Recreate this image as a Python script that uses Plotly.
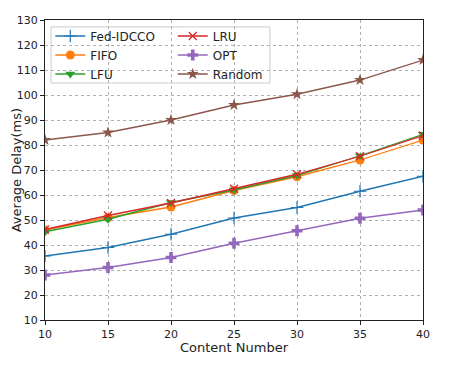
import plotly.graph_objects as go

content = [10, 15, 20, 25, 30, 35, 40]
fed_idcco = [35.6, 39.0, 44.3, 50.8, 55.0, 61.5, 67.5]
fifo = [46.0, 51.0, 55.2, 61.8, 67.3, 74.0, 82.0]
lfu = [45.3, 50.3, 57.0, 62.0, 67.8, 75.7, 84.3]
lru = [46.2, 51.8, 56.8, 62.5, 68.3, 75.5, 83.8]
opt = [28.0, 31.0, 35.0, 40.7, 45.7, 50.7, 54.0]
rand = [82.0, 85.0, 90.0, 96.0, 100.3, 106.0, 114.0]

x_title = "Content Number"
y_title = "Average Delay(ms)"

series = [
    ("Fed-IDCCO", fed_idcco, "#1f77b4", "cross-thin", 9, "legend"),
    ("FIFO", fifo, "#ff7f0e", "circle", 9, "legend"),
    ("LFU", lfu, "#2ca02c", "triangle-down", 9, "legend"),
    ("LRU", lru, "#d62728", "x-thin", 8, "legend2"),
    ("OPT", opt, "#9467bd", "cross", 9, "legend2"),
    ("Random", rand, "#8c564b", "star", 9, "legend2"),
]

fig = go.Figure()
for name, ys, col, sym, size, lg in series:
    fig.add_trace(go.Scatter(
        x=content, y=ys, name=name, mode="lines+markers",
        line=dict(color=col, width=1.3),
        marker=dict(symbol=sym, size=size, color=col,
                    line=dict(color=col, width=1.2 if "thin" in sym else 0)),
        legend=lg,
    ))

font = dict(family="DejaVu Sans", size=11, color="#222")
axis_common = dict(
    showgrid=True, gridcolor="#b0b0b0", griddash="dot", gridwidth=1,
    showline=True, linecolor="#222", linewidth=1.2, mirror=True,
    ticks="outside", ticklen=4, tickcolor="#222", zeroline=False,
    automargin=False,
    tickfont=dict(family="DejaVu Sans", size=11, color="#222"),
)
fig.update_xaxes(range=[10, 40], tickvals=[10, 15, 20, 25, 30, 35, 40], **axis_common)
fig.update_yaxes(range=[10, 130], tickvals=list(range(10, 131, 10)), **axis_common)

title_font = dict(family="DejaVu Sans", size=13, color="#222")
leg = dict(bgcolor="rgba(0,0,0,0)", borderwidth=0,
           font=dict(family="DejaVu Sans", size=12, color="#222"),
           yanchor="top", xanchor="left", y=0.995, tracegroupgap=0, itemwidth=30)
fig.update_layout(
    width=449, height=367,
    margin=dict(l=37, r=34, t=12, b=55),
    paper_bgcolor="white", plot_bgcolor="white",
    font=font,
    legend=dict(x=0.014, **leg),
    legend2=dict(x=0.338, **leg),
    shapes=[dict(type="rect", xref="paper", yref="paper", x0=0.016, x1=0.595, y0=0.79, y1=0.977,
                 line=dict(color="#cccccc", width=1), fillcolor="rgba(255,255,255,0.85)", layer="between")],
    annotations=[
        dict(text=x_title, xref="paper", yref="paper", x=0.5, y=-0.062, xanchor="center", yanchor="top",
             showarrow=False, font=title_font, borderpad=0),
        dict(text=y_title, xref="paper", yref="paper", x=-0.076, y=0.5, xanchor="center", yanchor="middle",
             textangle=-90, showarrow=False, font=title_font),
    ],
)
fig.write_html("out.html")
